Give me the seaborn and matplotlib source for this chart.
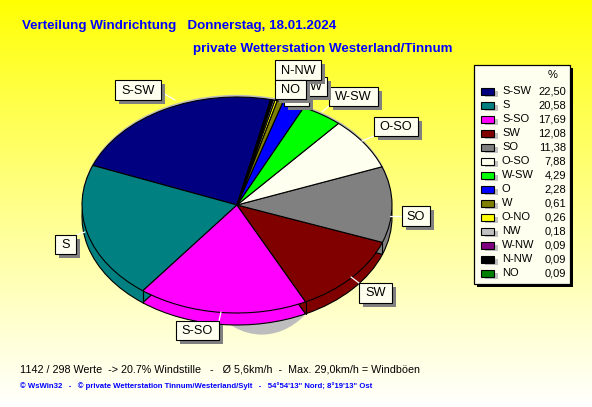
import matplotlib
matplotlib.use("Agg")
import matplotlib.pyplot as plt
from matplotlib.patches import Ellipse, Rectangle
import numpy as np
import seaborn as sns

# richtungen und anteile aus der legende
richtung = ["S-SW", "S", "S-SO", "SW", "SO", "O-SO", "W-SW", "O", "W", "O-NO", "NW", "W-NW", "N-NW", "NO"]
anteil = [22.50, 20.58, 17.69, 12.08, 11.38, 7.88, 4.29, 2.28, 0.61, 0.26, 0.18, 0.09, 0.09, 0.09]
farben = ["#000080", "#008080", "#FF00FF", "#800000", "#808080", "#FFFFF0", "#00FF00",
          "#0000FF", "#808000", "#FFFF00", "#C0C0C0", "#800080", "#000000", "#008000"]
anteil_text = ["22,50", "20,58", "17,69", "12,08", "11,38", "7,88", "4,29",
               "2,28", "0,61", "0,26", "0,18", "0,09", "0,09", "0,09"]

titel_1 = "Verteilung Windrichtung   Donnerstag, 18.01.2024"
titel_2 = "private Wetterstation Westerland/Tinnum"
fuss_1 = "1142 / 298 Werte  -> 20.7% Windstille   -   Ø 5,6km/h  -  Max. 29,0km/h = Windböen"
fuss_2 = "© WsWin32   -   © private Wetterstation Tinnum/Westerland/Sylt   -   54°54'13\" Nord; 8°19'13\" Ost"

sns.set_theme(style="white")
plt.rcParams["font.family"] = ["Liberation Sans", "DejaVu Sans"]
palette = sns.color_palette(farben)

B, H = 592, 407
fig = plt.figure(figsize=(B / 100, H / 100), dpi=100)

# hintergrund: verlauf von gelb nach fast weiss
bg = fig.add_axes([0, 0, 1, 1], zorder=0)
verlauf = np.ones((H, 1, 3))
verlauf[:, 0, 2] = np.linspace(0, 1, H) ** 0.9
bg.imshow(verlauf, aspect="auto", extent=(0, B, H, 0))
bg.set_xlim(0, B)
bg.set_ylim(H, 0)
bg.axis("off")

# tortenachse: ellipse mit rx=155, ry=108 um (237, 205)
cx, cy, rx, ry = 237, 205, 155, 108
m = 1.4
pie_ax = fig.add_axes([(cx - rx * m) / B, 1 - (cy + ry * m) / H, 2 * rx * m / B, 2 * ry * m / H], zorder=1)
start = 77.5
tiefe = 12 / ry

pie_ax.add_patch(Ellipse((0.16, -0.35), 0.9, 1.7, color="#BDBDBD", lw=0, zorder=0))
pie_ax.add_patch(Ellipse((0, 0.02), 2, 2, color="#BDBDBD", lw=0, zorder=0))
keil = dict(edgecolor="black", linewidth=0.8)
pie_ax.pie(anteil, colors=palette, startangle=start, counterclock=True, center=(0, -tiefe), wedgeprops=keil)
pie_ax.pie(anteil, colors=palette, startangle=start, counterclock=True, center=(0, 0), wedgeprops=keil)

# senkrechte kanten am rand
winkel = start + np.cumsum(anteil) * 3.6
for w in winkel:
    x, y = np.cos(np.radians(w)), np.sin(np.radians(w))
    if y < 0:
        pie_ax.plot([x, x], [y, y - tiefe], color="black", lw=0.8)
pie_ax.set_aspect("auto")
pie_ax.set_xlim(-m, m)
pie_ax.set_ylim(-m, m)
pie_ax.axis("off")

# pixelachse fuer texte, legende und beschriftungen
ov = fig.add_axes([0, 0, 1, 1], zorder=2)
ov.set_xlim(0, B)
ov.set_ylim(H, 0)
ov.axis("off")
ov.patch.set_alpha(0)

ov.text(22, 26, titel_1, color="#0000FF", fontsize=9.6, fontweight="bold", va="center")
ov.text(193, 49, titel_2, color="#0000FF", fontsize=9.6, fontweight="bold", va="center")
ov.text(20, 369, fuss_1, color="black", fontsize=7.75, va="center")
ov.text(20, 386, fuss_2, color="#0000FF", fontsize=5.6, fontweight="bold", va="center")


def schild(text, x0, y0, x1, y1, linie=None, z=5, text_x=None):
    if linie:
        ov.plot(linie[0], linie[1], color="white", lw=0.9, zorder=z)
    ov.add_patch(Rectangle((x0 + 4, y0 + 4), x1 - x0, y1 - y0, fc="#808080", ec="none", zorder=z))
    ov.add_patch(Rectangle((x0, y0), x1 - x0, y1 - y0, fc="#FFFFF0", ec="black", lw=0.8, zorder=z))
    if text:
        mitte = text_x if text_x else (x0 + x1) / 2
        ov.text(mitte, (y0 + y1) / 2 + 0.5, text, fontsize=9.2, color="black",
                ha="center", va="center", zorder=z)


schild("S-SW", 115, 80, 161, 100, ([161, 175], [92, 100]))
schild("S", 55, 235, 76, 254, ([76, 85], [235, 232]))
schild("S-SO", 176, 321, 219, 340, ([219, 221], [321, 312]))
schild("SW", 359, 283, 392, 303, ([359, 351], [283, 277]))
schild("SO", 402, 206, 430, 226, ([402, 390], [216, 216]))
schild("O-SO", 374, 117, 418, 136, ([374, 362], [136, 141]))
schild("W-SW", 329, 87, 378, 106, ([329, 322], [106, 112]))
# der untere kasten liegt fast ganz unter NO, sein text ist nicht zu sehen
schild("", 284, 92, 309, 106, None, z=4)
schild("W", 296, 77, 327, 96, None, z=5, text_x=316)
schild("N-NW", 275, 60, 321, 80, None, z=6)
schild("NO", 275, 80, 306, 99, None, z=7)

# legende
ov.add_patch(Rectangle((477, 68), 96, 219, fc="black", ec="none", zorder=5))
ov.add_patch(Rectangle((474, 65), 96, 219, fc="#FFFFF0", ec="black", lw=0.9, zorder=6))
ov.text(553, 75, "%", fontsize=8, ha="center", va="center", zorder=7, color="black")
for i, (name, wert, farbe) in enumerate(zip(richtung, anteil_text, palette)):
    y = 91 + i * 14
    ov.add_patch(Rectangle((485, y), 13, 6, fc="#C0C0C0", ec="none", zorder=7))
    ov.add_patch(Rectangle((481, y - 3.5), 12.5, 7.5, fc=farbe, ec="black", lw=0.8, zorder=8))
    ov.text(502, y, name, fontsize=8, va="center", zorder=8, color="black")
    ov.text(566, y, wert, fontsize=8, va="center", ha="right", zorder=8, color="black")

fig.savefig("out.png", dpi=100)
